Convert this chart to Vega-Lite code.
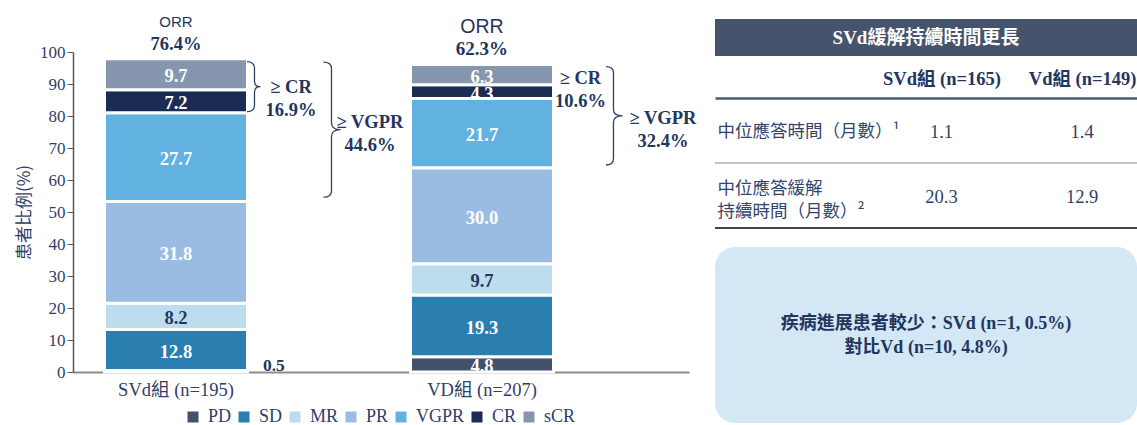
{
  "$schema": "https://vega.github.io/schema/vega-lite/v6.json",
  "background": "white",
  "padding": {"left": 15, "top": 15, "right": 0, "bottom": 0},
  "bounds": "flush",
  "spacing": 26,
  "config": {"view": {"stroke": null}, "font": "Liberation Serif", "axis": {"labelOverlap": false}},
  "datasets": {
    "segments": [
      {"group": "SVd組 (n=195)", "status": "PD", "value": 0.5},
      {"group": "SVd組 (n=195)", "status": "SD", "value": 12.8},
      {"group": "SVd組 (n=195)", "status": "MR", "value": 8.2},
      {"group": "SVd組 (n=195)", "status": "PR", "value": 31.8},
      {"group": "SVd組 (n=195)", "status": "VGPR", "value": 27.7},
      {"group": "SVd組 (n=195)", "status": "CR", "value": 7.2},
      {"group": "SVd組 (n=195)", "status": "sCR", "value": 9.7},
      {"group": "VD組 (n=207)", "status": "PD", "value": 4.8},
      {"group": "VD組 (n=207)", "status": "SD", "value": 19.3},
      {"group": "VD組 (n=207)", "status": "MR", "value": 9.7},
      {"group": "VD組 (n=207)", "status": "PR", "value": 30.0},
      {"group": "VD組 (n=207)", "status": "VGPR", "value": 21.7},
      {"group": "VD組 (n=207)", "status": "CR", "value": 4.3},
      {"group": "VD組 (n=207)", "status": "sCR", "value": 6.3}
    ],
    "summary": [
      {"group": "SVd組 (n=195)", "orr": 76.4, "cr": 16.9, "vgpr": 44.6},
      {"group": "VD組 (n=207)", "orr": 62.3, "cr": 10.6, "vgpr": 32.4}
    ],
    "table": [
      {"metric": "中位應答時間（月數）¹", "arm": "SVd組 (n=165)", "months": 1.1},
      {"metric": "中位應答時間（月數）¹", "arm": "Vd組 (n=149)", "months": 1.4},
      {"metric": "中位應答緩解|持續時間（月數）²", "arm": "SVd組 (n=165)", "months": 20.3},
      {"metric": "中位應答緩解|持續時間（月數）²", "arm": "Vd組 (n=149)", "months": 12.9}
    ],
    "tableTitle": [{"title": "SVd緩解持續時間更長"}],
    "note": [{"svd_n": 1, "svd_pct": 0.5, "vd_n": 10, "vd_pct": 4.8}]
  },
  "hconcat": [
    {
      "width": 616,
      "height": 353,
      "resolve": {"axis": {"x": "independent", "y": "independent"}},
      "layer": [
        {
          "data": {"name": "segments"},
          "transform": [
            {"calculate": "indexof(['PD','SD','MR','PR','VGPR','CR','sCR'], datum.status)", "as": "ord"},
            {"stack": "value", "groupby": ["group"], "sort": [{"field": "ord", "order": "ascending"}], "as": ["v0", "v1"]},
            {"calculate": "(datum.v0 + datum.v1) / 2", "as": "vmid"}
          ],
          "resolve": {"axis": {"x": "independent", "y": "independent"}},
          "layer": [
            {
              "mark": {"type": "bar", "stroke": "white", "strokeWidth": 3},
              "encoding": {
                "x": {
                  "field": "group", "type": "nominal", "sort": null, "title": null,
                  "scale": {"type": "band", "paddingInner": 0.5327, "paddingOuter": 0.2729, "align": 0.1886},
                  "axis": {"labelAngle": 0, "ticks": false, "domainColor": "#8c8c8c", "domainWidth": 2, "labelFont": "Liberation Serif, Noto Sans CJK TC", "labelFontSize": 18.5, "labelColor": "#2f4068", "labelPadding": 8}
                },
                "y": {
                  "field": "v0", "type": "quantitative", "title": "患者比例(%)",
                  "scale": {"domain": [0, 110.3125], "nice": false},
                  "axis": {"values": [0, 10, 20, 30, 40, 50, 60, 70, 80, 90, 100], "labelOverlap": false, "grid": false, "titleFont": "Noto Sans CJK TC", "titleFontSize": 17, "titleFontWeight": "normal", "titleColor": "#2f4068", "titleY": 193, "titlePadding": 6, "labelFont": "Liberation Serif", "labelFontSize": 17, "labelColor": "#2f4068", "labelPadding": 2, "tickSize": 6, "tickColor": "#555555", "domainColor": "#555555", "domainWidth": 1.5, "domainDash": [320, 100]}
                },
                "y2": {"field": "v1"},
                "color": {
                  "field": "status", "type": "nominal",
                  "scale": {"domain": ["PD", "SD", "MR", "PR", "VGPR", "CR", "sCR"], "range": ["#44516b", "#2b7eb0", "#bddcee", "#9bbce2", "#61b1e1", "#1a2c54", "#8596ae"]},
                  "legend": {"orient": "none", "legendX": 111, "legendY": 389, "direction": "horizontal", "gridAlign": "none", "title": null, "symbolType": "square", "symbolSize": 121, "symbolStrokeWidth": 0, "labelFont": "Liberation Serif", "labelFontSize": 18, "labelColor": "#2f4068", "columnPadding": 3, "labelOffset": 6, "padding": 0}
                }
              }
            },
            {
              "transform": [{"filter": "datum.value >= 1"}],
              "mark": {"type": "text", "font": "Liberation Serif", "fontWeight": "bold", "fontSize": 18.5, "baseline": "middle", "align": "center", "dy": 2},
              "encoding": {
                "x": {"field": "group", "type": "nominal", "sort": null, "axis": null},
                "y": {"field": "vmid", "type": "quantitative", "axis": null},
                "text": {"field": "value", "type": "quantitative", "format": ".1f"},
                "color": {"condition": {"test": "datum.status === 'MR'", "value": "#23365e"}, "value": "#ffffff"}
              }
            },
            {
              "transform": [{"filter": "datum.value < 1"}],
              "mark": {"type": "text", "font": "Liberation Serif", "fontWeight": "bold", "fontSize": 17.5, "baseline": "middle", "align": "left", "dx": 15.5, "dy": -4, "color": "#23365e"},
              "encoding": {
                "x": {"field": "group", "type": "nominal", "sort": null, "bandPosition": 1, "axis": null},
                "y": {"field": "v1", "type": "quantitative", "axis": null},
                "text": {"field": "value", "type": "quantitative", "format": ".1f"}
              }
            }
          ]
        },
        {
          "data": {"name": "segments"},
          "transform": [
            {"aggregate": [{"op": "sum", "field": "value", "as": "total"}], "groupby": ["group"]},
            {"lookup": "group", "from": {"data": {"name": "summary"}, "key": "group", "fields": ["orr", "cr", "vgpr"]}},
            {"calculate": "format(datum.orr, '.1f') + '%'", "as": "orrLabel"},
            {"calculate": "'≥ CR\\n' + format(datum.cr, '.1f') + '%'", "as": "crLabel"},
            {"calculate": "'≥ VGPR\\n' + format(datum.vgpr, '.1f') + '%'", "as": "vgprLabel"}
          ],
          "resolve": {"axis": {"x": "independent", "y": "independent"}},
          "encoding": {
            "y": {"field": "total", "type": "quantitative", "axis": null}
          },
          "layer": [
            {
              "transform": [{"filter": "datum.group === 'SVd組 (n=195)'"}],
              "mark": {"type": "text", "font": "Liberation Sans", "fontSize": 15, "baseline": "middle", "align": "center", "dy": -36.5, "color": "#23365e"},
              "encoding": {"x": {"field": "group", "type": "nominal", "sort": null, "axis": null}, "text": {"value": "ORR"}}
            },
            {
              "transform": [{"filter": "datum.group === 'VD組 (n=207)'"}],
              "mark": {"type": "text", "font": "Liberation Sans", "fontSize": 19.5, "baseline": "middle", "align": "center", "dy": -37, "color": "#23365e"},
              "encoding": {"x": {"field": "group", "type": "nominal", "sort": null, "axis": null}, "text": {"value": "ORR"}}
            },
            {
              "transform": [{"filter": "datum.group === 'SVd組 (n=195)'"}],
              "mark": {"type": "text", "font": "Liberation Serif", "fontWeight": "bold", "fontSize": 18.5, "baseline": "middle", "align": "center", "dy": -14.4, "color": "#23365e"},
              "encoding": {"x": {"field": "group", "type": "nominal", "sort": null, "axis": null}, "text": {"field": "orrLabel", "type": "nominal"}}
            },
            {
              "transform": [{"filter": "datum.group === 'VD組 (n=207)'"}],
              "mark": {"type": "text", "font": "Liberation Serif", "fontWeight": "bold", "fontSize": 19, "baseline": "middle", "align": "center", "dy": -15.7, "color": "#23365e"},
              "encoding": {"x": {"field": "group", "type": "nominal", "sort": null, "axis": null}, "text": {"field": "orrLabel", "type": "nominal"}}
            },
            {
              "transform": [{"filter": "datum.group === 'SVd組 (n=195)'"}],
              "mark": {"type": "point", "shape": "M-0.5,3 C3.5,3 7,5 7,9 L7,22.5 C7,26 9,28 13,28 C9,28 7,30 7,33.5 L7,47 C7,51 3.5,53 -0.5,53", "size": 4, "filled": false, "color": "#2f4068", "strokeWidth": 1.3, "opacity": 1},
              "encoding": {"x": {"field": "group", "type": "nominal", "sort": null, "bandPosition": 1, "axis": null}}
            },
            {
              "transform": [{"filter": "datum.group === 'SVd組 (n=195)'"}],
              "mark": {"type": "point", "shape": "M76,3.5 C80.5,3.5 84,5.5 84,10 L84,64 C84,68.5 87,71 93,71 C87,71 84,73.5 84,78 L84,132 C84,136.5 80.5,138.5 76,138.5", "size": 4, "filled": false, "color": "#2f4068", "strokeWidth": 1.3, "opacity": 1},
              "encoding": {"x": {"field": "group", "type": "nominal", "sort": null, "bandPosition": 1, "axis": null}}
            },
            {
              "transform": [{"filter": "datum.group === 'VD組 (n=207)'"}],
              "mark": {"type": "point", "shape": "M52.5,2.2 C57,2.2 60,4.2 60,8.5 L60,45 C60,49 63,51.3 69,51.3 C63,51.3 60,53.6 60,57.6 L60,94 C60,98.5 57,100.5 52.5,100.5", "size": 4, "filled": false, "color": "#2f4068", "strokeWidth": 1.3, "opacity": 1},
              "encoding": {"x": {"field": "group", "type": "nominal", "sort": null, "bandPosition": 1, "axis": null}}
            },
            {
              "transform": [{"filter": "datum.group === 'SVd組 (n=195)'"}],
              "mark": {"type": "text", "font": "Liberation Serif", "fontWeight": "bold", "fontSize": 18.5, "lineHeight": 23, "lineBreak": "\n", "baseline": "middle", "align": "center", "dx": 43.5, "dy": 28.3, "color": "#23365e"},
              "encoding": {"x": {"field": "group", "type": "nominal", "sort": null, "bandPosition": 1, "axis": null}, "text": {"field": "crLabel", "type": "nominal"}}
            },
            {
              "transform": [{"filter": "datum.group === 'SVd組 (n=195)'"}],
              "mark": {"type": "text", "font": "Liberation Serif", "fontWeight": "bold", "fontSize": 18.5, "lineHeight": 23, "lineBreak": "\n", "baseline": "middle", "align": "center", "dx": 122.5, "dy": 62.8, "color": "#23365e"},
              "encoding": {"x": {"field": "group", "type": "nominal", "sort": null, "bandPosition": 1, "axis": null}, "text": {"field": "vgprLabel", "type": "nominal"}}
            },
            {
              "transform": [{"filter": "datum.group === 'VD組 (n=207)'"}],
              "mark": {"type": "text", "font": "Liberation Serif", "fontWeight": "bold", "fontSize": 18.5, "lineHeight": 23, "lineBreak": "\n", "baseline": "middle", "align": "center", "dx": 27, "dy": 13.3, "color": "#23365e"},
              "encoding": {"x": {"field": "group", "type": "nominal", "sort": null, "bandPosition": 1, "axis": null}, "text": {"field": "crLabel", "type": "nominal"}}
            },
            {
              "transform": [{"filter": "datum.group === 'VD組 (n=207)'"}],
              "mark": {"type": "text", "font": "Liberation Serif", "fontWeight": "bold", "fontSize": 18.5, "lineHeight": 23, "lineBreak": "\n", "baseline": "middle", "align": "center", "dx": 109.5, "dy": 53.3, "color": "#23365e"},
              "encoding": {"x": {"field": "group", "type": "nominal", "sort": null, "bandPosition": 1, "axis": null}, "text": {"field": "vgprLabel", "type": "nominal"}}
            }
          ]
        }
      ]
    },
    {
      "bounds": "flush",
      "spacing": 42,
      "vconcat": [
        {
          "width": 422,
          "height": 37,
          "view": {"fill": "#45536d", "stroke": null},
          "data": {"name": "tableTitle"},
          "mark": {"type": "text", "font": "Liberation Serif, Noto Sans CJK TC", "fontWeight": "bold", "fontSize": 19, "color": "#ffffff", "baseline": "middle", "align": "center"},
          "encoding": {"text": {"field": "title", "type": "nominal"}}
        },
        {
          "bounds": "flush",
          "spacing": 19,
          "vconcat": [
            {
              "width": 422,
              "height": 130,
              "data": {"name": "table"},
              "resolve": {"axis": {"x": "independent", "y": "independent"}},
              "layer": [
                {
                  "mark": {"type": "text", "font": "Liberation Serif", "fontSize": 18.5, "color": "#2f4068", "baseline": "middle", "align": "center", "dy": 1},
                  "encoding": {
                    "x": {
                      "field": "arm", "type": "nominal", "sort": null, "title": null,
                      "scale": {"type": "point", "padding": 1.007, "align": 0.805},
                      "axis": {"orient": "top", "labelAngle": 0, "ticks": false, "domainColor": "#4e5b71", "domainWidth": 2.5, "labelFont": "Liberation Serif, Noto Sans CJK TC", "labelFontWeight": "bold", "labelFontSize": 18.5, "labelColor": "#23365e", "labelPadding": 10}
                    },
                    "y": {
                      "field": "metric", "type": "nominal", "sort": null, "title": null,
                      "scale": {"type": "band", "paddingInner": 0, "paddingOuter": 0},
                      "axis": {"ticks": false, "domain": false, "labelAlign": "left", "labelPadding": -2, "labelLimit": 400, "labelFont": "Noto Sans CJK TC", "labelFontSize": 17.5, "labelColor": "#34456b", "labelExpr": "split(datum.label, '|')", "labelLineHeight": 23, "labelOffset": {"condition": {"test": "indexof(datum.value, '|') >= 0", "value": -7}, "value": 1}}
                    },
                    "text": {"field": "months", "type": "quantitative", "format": ".1f"}
                  }
                },
                {
                  "transform": [{"filter": "datum.arm === 'SVd組 (n=165)'"}],
                  "mark": {"type": "rule", "strokeWidth": 2},
                  "encoding": {
                    "y": {"field": "metric", "type": "nominal", "sort": null, "bandPosition": 1, "axis": null},
                    "color": {"condition": {"test": "indexof(datum.metric, '|') >= 0", "value": "#3d4350"}, "value": "#c4c4c4"}
                  }
                }
              ]
            },
            {
              "width": 422,
              "height": 176,
              "view": {"fill": "#d3e7f4", "stroke": null, "cornerRadius": 20},
              "data": {"name": "note"},
              "transform": [
                {"calculate": "'疾病進展患者較少：SVd (n=' + datum.svd_n + ', ' + format(datum.svd_pct, '.1f') + '%)\\n對比Vd (n=' + datum.vd_n + ', ' + format(datum.vd_pct, '.1f') + '%)'", "as": "noteText"}
              ],
              "mark": {"type": "text", "font": "Liberation Serif, Noto Sans CJK TC", "fontWeight": "bold", "fontSize": 18, "lineHeight": 24, "lineBreak": "\n", "color": "#23365e", "baseline": "middle", "align": "center", "dy": -11},
              "encoding": {"text": {"field": "noteText", "type": "nominal"}}
            }
          ]
        }
      ]
    }
  ]
}
